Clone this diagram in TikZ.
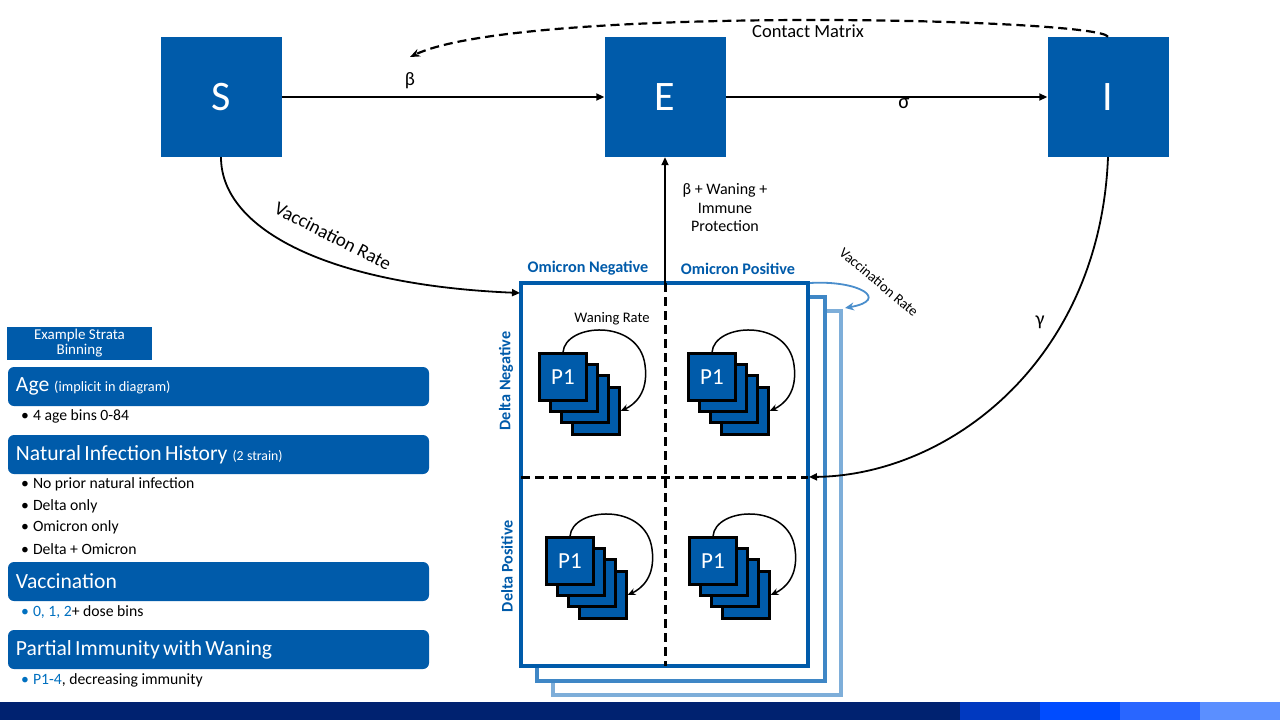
\documentclass[tikz,border=0pt]{standalone}
\usepackage{fontspec}
\setmainfont{Carlito}
\usetikzlibrary{arrows.meta}
\definecolor{mblue}{HTML}{005BAA}
\definecolor{ctwo}{HTML}{3F87C6}
\definecolor{cthree}{HTML}{7EAED9}
\definecolor{loopblue}{HTML}{4A8ECC}
\definecolor{txtblue}{HTML}{0070C0}
\definecolor{barA}{HTML}{002270}
\definecolor{barB}{HTML}{0039C0}
\definecolor{barC}{HTML}{004CFF}
\definecolor{barD}{HTML}{2966FF}
\definecolor{barE}{HTML}{5B8FFF}
\newcommand{\fs}[1]{\fontsize{#1}{#1}\selectfont}
\tikzset{
  cbox/.style={fill=mblue, text=white, minimum width=121, minimum height=120, inner sep=0, font=\fs{42}},
  arr/.style={-{Triangle[length=8pt,width=7pt]}, line width=1.8pt},
  loopa/.style={-{Stealth[length=8pt,width=7pt]}, line width=1.5pt},
  dsh/.style={line width=3pt, dash pattern=on 9pt off 5pt},
  psq/.style={fill=mblue, draw=black, line width=2.2pt, minimum size=47, inner sep=0, text=white, font=\fs{23}},
  hdr/.style={fill=mblue, rounded corners=6pt, minimum width=421, minimum height=39, text width=405, inner xsep=8, align=left, text=white},
  bul/.style={anchor=west, font=\fs{15.7}, inner sep=0},
  stratlab/.style={font=\bfseries\fs{16.2}, text=mblue}
}
\newcommand{\pstack}[3]{%
  \node[psq] (#3d) at (#1+33+24,#2+34+24) {};
  \node[psq] (#3c) at (#1+22+24,#2+22+24) {};
  \node[psq] (#3b) at (#1+11+24,#2+11+24) {};
  \node[psq] (#3a) at (#1+24,#2+24) {P1};
  \draw[loopa] (#3a.north) .. controls (#1+26,#2-30) and (#1+100,#2-35) .. (#1+106,#2+12)
     .. controls (#1+110,#2+40) and (#1+95,#2+52) .. (#3d.east |- {0,#2+58});
}
\begin{document}
\begin{tikzpicture}[x=1pt,y=-1pt]
\useasboundingbox (0,0) rectangle (1280,720);
\fill[white] (0,0) rectangle (1280,720);

% SEI boxes
\node[cbox] (S) at (221,97) {S};
\node[cbox] (E) at (665,97) {E};
\node[cbox] (I) at (1108,97) {I};

\draw[arr] (S.east) -- (E.west);
\node[font=\fs{19}] (beta) at (410,81) {β};
\draw[arr] (E.east) -- (I.west);
\node[font=\fs{21}] (sigma) at (904,104) {σ};

\coordinate (cmend) at (410,57);
\draw[line width=2.2pt, dash pattern=on 9pt off 5pt, -{Stealth[length=10pt,width=8pt]}] (I.north) .. controls (1100,18) and (520,5) .. (cmend);
\node[font=\fs{18.5}] (cm) at (808,31) {Contact Matrix};

% stacked strata boxes
\node[draw=cthree, line width=3.5pt, fill=white, minimum width=288, minimum height=384, inner sep=0] (back2) at (697,503) {};
\node[draw=ctwo, line width=3.5pt, fill=white, minimum width=288, minimum height=384, inner sep=0] (back1) at (681,489) {};
\node[draw=mblue, line width=3.5pt, fill=white, minimum width=287, minimum height=383, inner sep=0] (front) at (664.5,474.5) {};

\coordinate (vtop) at (665,283);
\coordinate (vbot) at (665,666);
\coordinate (hleft) at (521,477);
\coordinate (hright) at (808,477);
\draw[dsh] (vtop) -- (vbot);
\draw[dsh] (hleft) -- (hright);

% E inflow
\draw[arr] (vtop) -- (E.south);
\node[font=\fs{16}, align=center] (inlab) at (725,208) {β + Waning +\\[2.5pt]Immune\\[2.5pt]Protection};

% vaccination from S
\coordinate (vin) at (520,293);
\draw[arr] (S.south) .. controls (221,230) and (330,285) .. (vin);
\node[font=\fs{19}, rotate=-27] (vrlab) at (333,236) {Vaccination Rate};

% gamma
\coordinate (gin) at (809,477);
\draw[arr] (I.south) .. controls (1100,360) and (950,475) .. (gin);
\node[font=\fs{20}] (gamma) at (1040,322) {γ};

% small vaccination loop
\coordinate (vl0) at (810,283);
\coordinate (vl1) at (845,308);
\draw[loopblue, line width=1.8pt, -{Stealth[length=9pt,width=8pt]}] (vl0) .. controls (860,280) and (890,300) .. (vl1);
\node[font=\fs{14.5}, rotate=-40] (vrsmall) at (879,282) {Vaccination Rate};

% strata labels
\node[stratlab] (on) at (588,268) {Omicron Negative};
\node[stratlab] (op) at (738,269) {Omicron Positive};
\node[stratlab, rotate=90] (dn) at (506,381) {Delta Negative};
\node[stratlab, rotate=90] (dp) at (507,566) {Delta Positive};

% P stacks
\pstack{539}{353}{qa}
\pstack{688}{353}{qb}
\pstack{546}{537}{qc}
\pstack{689}{537}{qd}
\node[font=\fs{14.6}] (wr) at (612,319) {Waning Rate};

% left panel
\node[fill=mblue, text=white, minimum width=145, minimum height=33, inner sep=0, align=center, font=\fs{15}] (ex) at (79.5,343.5) {Example Strata\\[0pt]Binning};
\node[hdr] (hage) at (218.5,386.5) {{\fs{21.6}Age}\hspace{5pt}{\fs{14.3}(implicit in diagram)}};
\node[bul] (b1) at (21,416) {•\hspace{4pt}4 age bins 0-84};
\node[hdr] (hnih) at (218.5,454.5) {{\fs{21.6}Natural Infection History}\hspace{5pt}{\fs{13.8}(2 strain)}};
\node[bul] (b2) at (21,484) {•\hspace{4pt}No prior natural infection};
\node[bul] (b3) at (21,506) {•\hspace{4pt}Delta only};
\node[bul] (b4) at (21,527) {•\hspace{4pt}Omicron only};
\node[bul] (b5) at (21,549) {•\hspace{4pt}Delta + Omicron};
\node[hdr] (hvac) at (218.5,581.5) {\fs{21.6}Vaccination};
\node[bul] (b6) at (21,612) {\textcolor{txtblue}{•\hspace{4pt}0, 1, 2}+ dose bins};
\node[hdr] (hpiw) at (218.5,649.5) {\fs{21.6}Partial Immunity with Waning};
\node[bul] (b7) at (21,680) {\textcolor{txtblue}{•\hspace{4pt}P1-4}, decreasing immunity};

% bottom bar
\fill[barA] (0,702) rectangle (960,720);
\fill[barB] (960,702) rectangle (1040,720);
\fill[barC] (1040,702) rectangle (1120,720);
\fill[barD] (1120,702) rectangle (1200,720);
\fill[barE] (1200,702) rectangle (1280,720);
\end{tikzpicture}
\end{document}
